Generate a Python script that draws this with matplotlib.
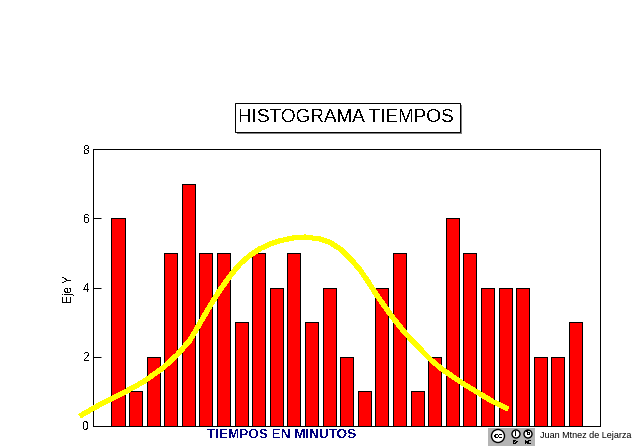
import matplotlib
matplotlib.use("Agg")
import matplotlib.pyplot as plt
from matplotlib.patches import Rectangle, Circle

plt.rcParams['font.family'] = ['Liberation Sans', 'DejaVu Sans']
plt.rcParams['text.antialiased'] = False

bar_values = [6, 1, 2, 5, 7, 5, 5, 3, 5, 4, 5, 3, 4, 2, 1, 4, 5, 1, 2, 6, 5, 4, 4, 4, 2, 2, 3]
curve_x = [-2.16, -1.02, 0.28, 1.42, 2.56, 3.35, 4.09, 4.66, 5.23, 5.80, 6.36, 6.93, 7.5, 8.07,
           8.64, 9.2, 9.94, 10.63, 11.48, 12.05, 12.61, 13.18, 13.75, 14.2, 14.6, 15.17, 15.74,
           16.31, 16.88, 17.16, 17.84, 18.47, 19.15, 19.72, 20.57, 21.31, 22.16]
curve_y = [0.29, 0.62, 0.95, 1.27, 1.68, 2.05, 2.48, 2.97, 3.47, 3.93, 4.33, 4.68, 4.93, 5.12,
           5.26, 5.35, 5.43, 5.46, 5.40, 5.30, 5.12, 4.85, 4.51, 4.18, 3.86, 3.44, 3.05,
           2.69, 2.38, 2.23, 1.88, 1.62, 1.38, 1.19, 0.93, 0.70, 0.49]
y_ticks = [0, 2, 4, 6, 8]
title = "HISTOGRAMA TIEMPOS"
xlabel = "TIEMPOS EN MINUTOS"
ylabel = "Eje Y"
credit = "Juan Mtnez de Lejarza"

W, H = 642, 446
fig = plt.figure(figsize=(W / 100, H / 100), dpi=100, facecolor='white')
ax = fig.add_axes([93 / W, 1 - 426 / H, (600 - 93) / W, (426 - 149) / H])

ax.bar(range(len(bar_values)), bar_values, width=0.74, color='#ff0000',
       edgecolor='black', linewidth=0.72, zorder=2, antialiased=False)
ax.plot(curve_x, curve_y, color='#ffff00', linewidth=2.9, zorder=3, clip_on=False,
        solid_capstyle='butt', solid_joinstyle='round', antialiased=False)

ax.set_xlim(-1.42, 27.39)
ax.set_ylim(0, 8)
ax.set_xticks([])
ax.set_yticks(y_ticks)
ax.tick_params(axis='y', direction='in', length=5.5, width=0.72, labelsize=8.5, pad=2.5)
for s in ax.spines.values():
    s.set_linewidth(0.72)
ax.set_facecolor('white')


def fx(px):
    return px / W


def fy(py):
    return 1 - py / H


def frect(x0, y0, x1, y1, **kw):
    fig.add_artist(Rectangle((fx(x0), fy(y1)), (x1 - x0) / W, (y1 - y0) / H,
                             transform=fig.transFigure, **kw))


fig.text(fx(69), fy(289), ylabel, rotation=90, ha='center', va='center', fontsize=8.5)

# title box with shadow
frect(237, 105, 462, 134, facecolor='#808080', edgecolor='none', zorder=5)
frect(234.5, 102.5, 459.5, 131.5, facecolor='white', edgecolor='black', linewidth=0.72, zorder=6)
fig.text(fx(346), fy(117), title, ha='center', va='center', fontsize=13.7, zorder=7)

fig.text(fx(282), fy(435), xlabel, ha='center', va='center', fontsize=9.7,
         fontweight='bold', color='#000080')

# licence badge
frect(488, 428, 535, 446, facecolor='#b4b4b4', edgecolor='none', zorder=5)
for cx, cy, r, lab, size in [(498, 436, 6.5, 'cc', 6), (516, 434, 4, 'i', 5.5), (528, 434, 4, '$', 5.5)]:
    fig.add_artist(Circle((cx, H - cy), r, transform=None,
                          facecolor='white', edgecolor='black', linewidth=1.0, zorder=7))
    fig.text(fx(cx), fy(cy), lab, ha='center', va='center',
             fontsize=size, fontweight='bold', zorder=8)
fig.text(fx(516), fy(443), 'BY', ha='center', va='center', fontsize=3.5, zorder=8)
fig.text(fx(528), fy(443), 'NC', ha='center', va='center', fontsize=3.5, zorder=8)

fig.text(fx(540), fy(435), credit, ha='left', va='center', fontsize=6.5, antialiased=True)

fig.savefig('out.png', dpi=100, facecolor='white')
